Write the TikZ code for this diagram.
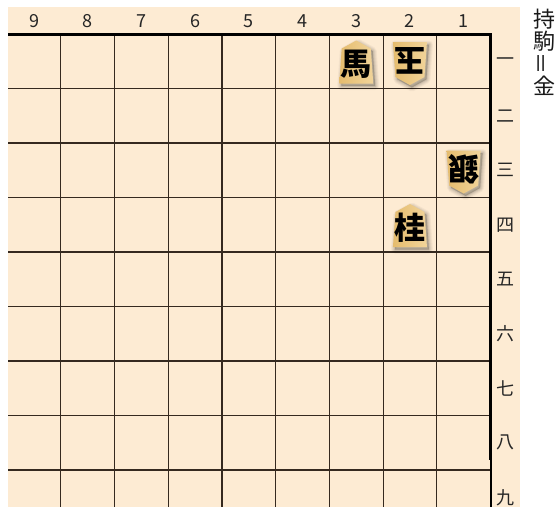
\documentclass[tikz,border=0pt]{standalone}
\usepackage{fontspec}
\setmainfont{Noto Sans CJK JP}
\newfontfamily\cjk{Noto Sans CJK JP}
\definecolor{boardbg}{HTML}{FDEBD3}
\definecolor{gridline}{HTML}{35291F}
\definecolor{komalight}{HTML}{FAEACB}
\definecolor{komamid}{HTML}{F1D49A}
\definecolor{komadark}{HTML}{E5BC6E}
\tikzset{
  gridln/.style={draw=gridline,line width=1.1pt},
  border/.style={draw=black,line width=3pt},
  collabel/.style={font=\fontsize{18}{18}\selectfont,text=black!85},
  ranklabel/.style={font=\fontsize{18}{18}\selectfont,text=black!85},
  handlabel/.style={font=\fontsize{22}{22}\selectfont,text=black!90},
  komafill/.style={left color=komadark,middle color=komalight,right color=komamid},
  komatext/.style={font=\cjk\bfseries\fontsize{31}{31}\selectfont,text=black,inner sep=0pt},
}
% name, x, y, character, rotation
\newcommand\komapiece[5]{%
  \begin{scope}[shift={(#2,#3)}]
    \begin{scope}[shift={(2,2.5)},rotate=#5]
      \foreach \w/\o in {8/0.035,6/0.045,4/0.055,2/0.07}{
        \filldraw[black,fill opacity=\o,draw opacity=\o,line width=\w pt,line join=round]
          (0,-21.5) -- (14.5,-13.5) -- (17,21.5) -- (-17,21.5) -- (-14.5,-13.5) -- cycle;
      }
    \end{scope}
    \begin{scope}[rotate=#5]
      \shade[komafill] (0,-21.5) -- (14.5,-13.5) -- (17,21.5) -- (-17,21.5) -- (-14.5,-13.5) -- cycle;
      \node[komatext,rotate=#5] (#1) at (0,2.5) {#4};
    \end{scope}
  \end{scope}}
\begin{document}
\begin{tikzpicture}[x=1pt,y=-1pt]
  \useasboundingbox (0,0) rectangle (560,507);
  \fill[white] (0,0) rectangle (560,507);
  \fill[boardbg] (8,7) rectangle (520,507);
  % grid
  \foreach \i in {1,...,8}{
    \draw[gridln] ({7.2+53.7*\i},34) -- ({7.2+53.7*\i},507);
    \draw[gridln] (8,{34+54.5*\i}) -- (490.5,{34+54.5*\i});
  }
  % border
  \draw[border] (8,34) -- (490.5,34) -- (490.5,460);
  \draw[draw=black,line width=2pt] (490.5,460) -- (490.5,507);
  % column labels
  \foreach \c in {1,...,9}{
    \node[collabel] (col\c) at ({490.5-53.7*(\c-0.5)},21) {\c};
  }
  % rank labels
  \foreach \r/\k in {1/一,2/二,3/三,4/四,5/五,6/六,7/七,8/八,9/九}{
    \node[ranklabel] (rank\r) at (505,{34+54.5*(\r-0.5)}) {\k};
  }
  % pieces in hand
  \node[handlabel] (h1) at (544,19) {持};
  \node[handlabel] (h2) at (544,41) {駒};
  \node[handlabel,rotate=90] (h3) at (544,63) {＝};
  \node[handlabel] (h4) at (544,86) {金};
  % pieces
  \komapiece{uma}{356.25}{62}{馬}{0}
  \komapiece{gyoku}{409.95}{63.5}{玉}{180}
  \komapiece{gin}{463.65}{172}{銀}{180}
  \komapiece{kei}{409.95}{225.5}{桂}{0}
\end{tikzpicture}
\end{document}
